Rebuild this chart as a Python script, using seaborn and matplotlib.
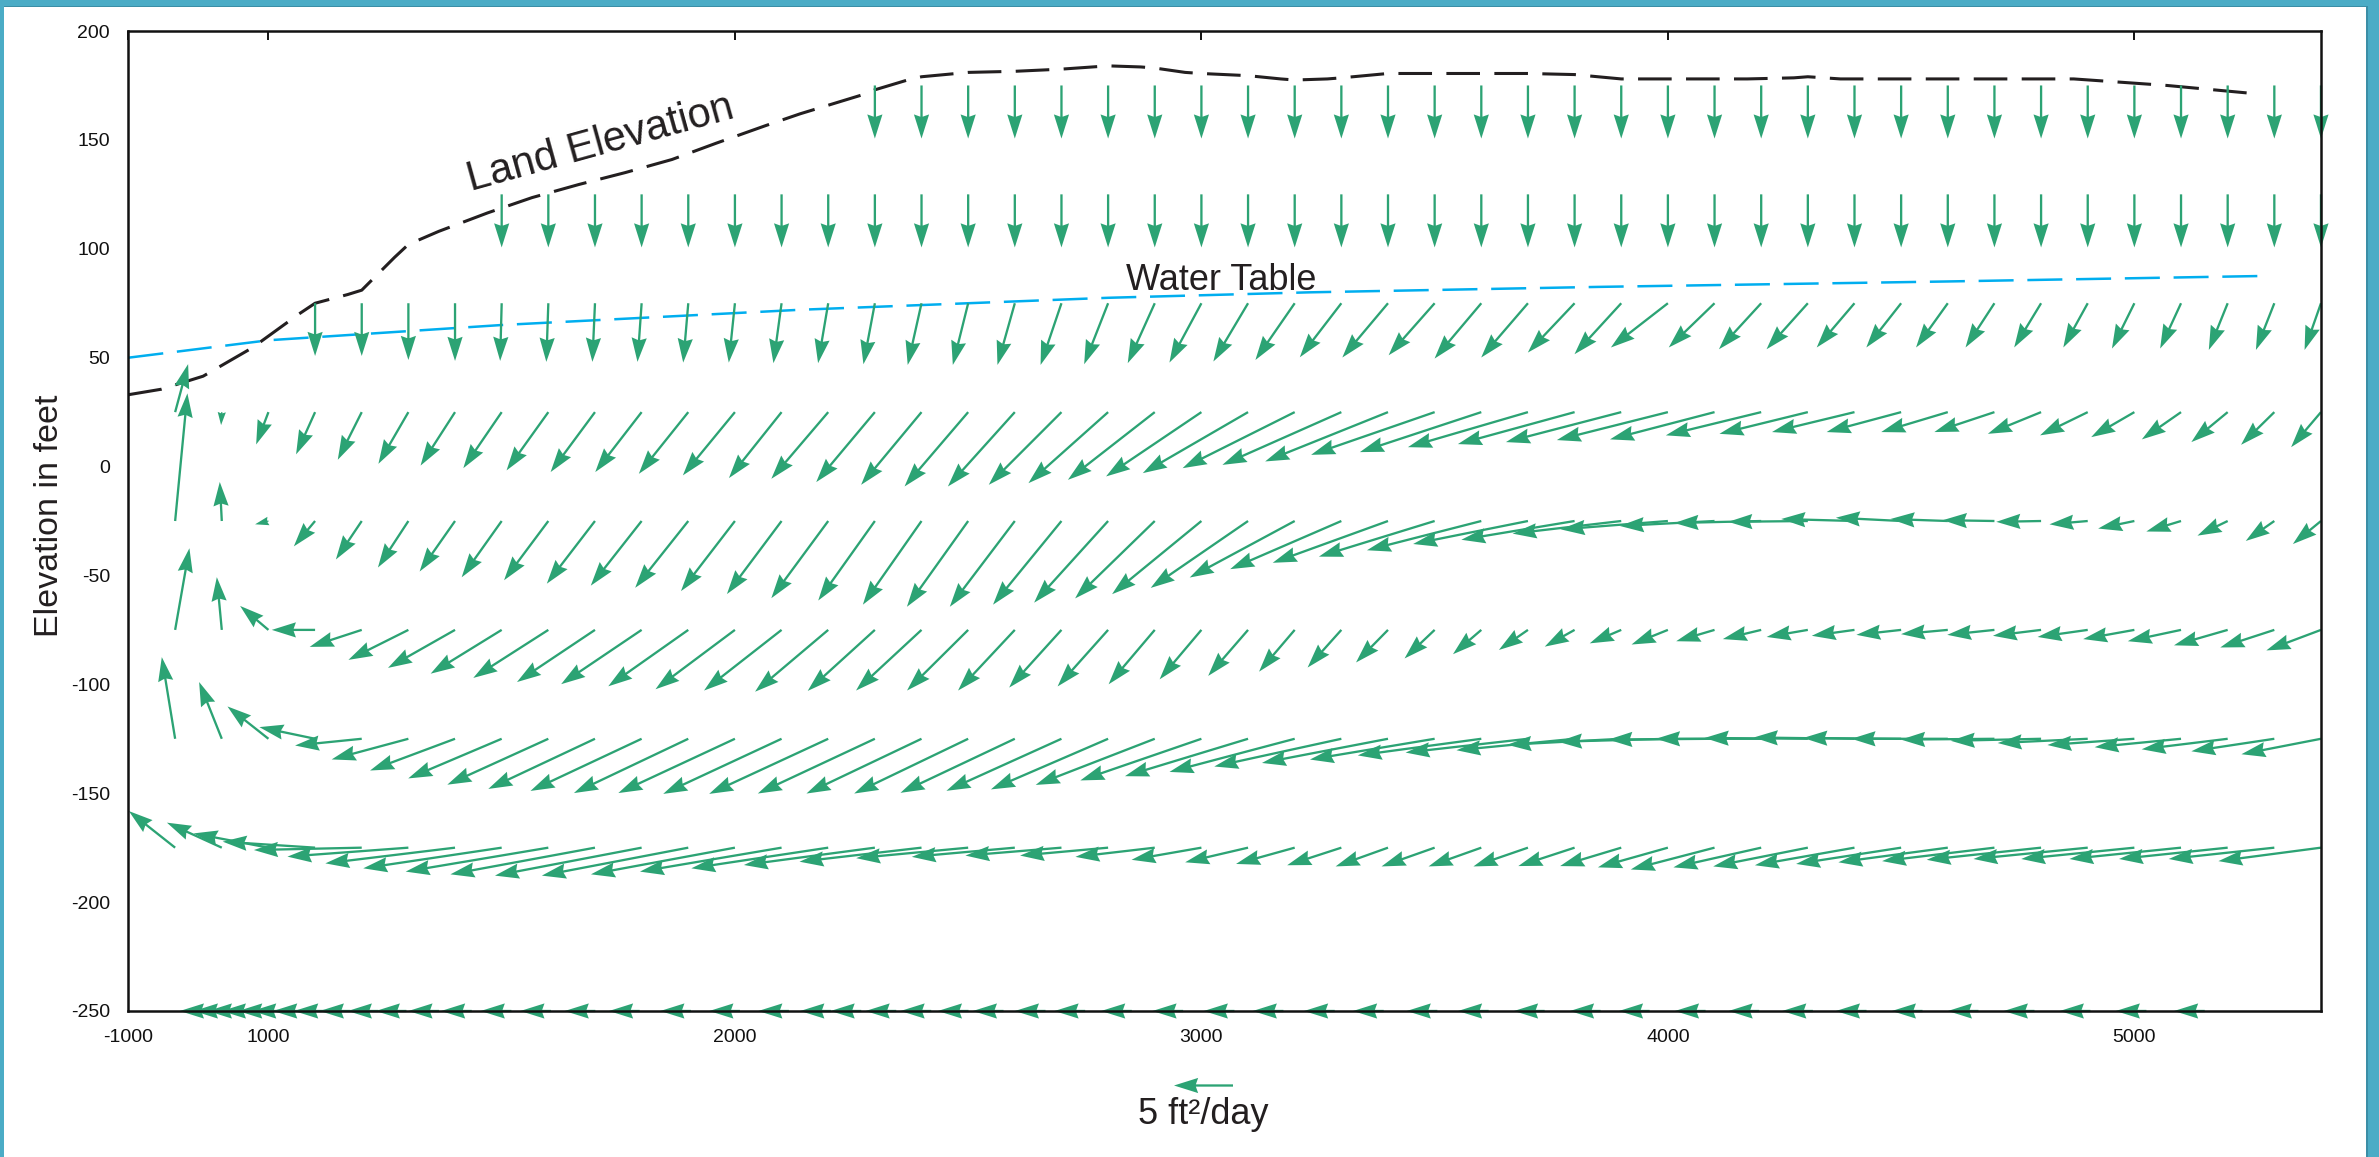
import numpy as np
import pandas as pd
import matplotlib
matplotlib.use("Agg")
import matplotlib.pyplot as plt
import seaborn as sns
from matplotlib.patches import Rectangle

# ---- data -------------------------------------------------------------
# model columns (ft) holding a flux vector, one list per model row (elevation, ft)
cols_175 = list(range(2300, 5500, 100))
cols_125 = list(range(1500, 5500, 100))
cols_75 = list(range(1100, 5500, 100))
cols_mid = list(range(800, 5500, 100))      # rows 25 ... -175

# horizontal / vertical flux (ft2/day)
u_175 = [0.0] * len(cols_175)
v_175 = [-4.5, -4.5, -4.5, -4.5, -4.5, -4.5, -4.5, -4.5, -4.5, -4.5, -4.5, -4.5, -4.5, -4.5, -4.5, -4.5,
         -4.5, -4.5, -4.5, -4.5, -4.5, -4.5, -4.5, -4.5, -4.5, -4.5, -4.5, -4.5, -4.5, -4.5, -4.5, -4.5]
u_125 = [0.0] * len(cols_125)
v_125 = [-4.5, -4.5, -4.5, -4.5, -4.5, -4.5, -4.5, -4.5, -4.5, -4.5, -4.5, -4.5, -4.5, -4.5, -4.5, -4.5,
         -4.5, -4.5, -4.5, -4.5, -4.5, -4.5, -4.5, -4.5, -4.5, -4.5, -4.5, -4.5, -4.5, -4.5, -4.5, -4.5,
         -4.5, -4.5, -4.5, -4.5, -4.5, -4.5, -4.5, -4.5]

u_75 = [0.00, 0.00, 0.00, 0.00, -0.13, -0.17, -0.22, -0.35, -0.43, -0.52, -0.69, -0.86, -0.97, -1.17,
        -1.30, -1.47, -1.77, -2.03, -2.29, -2.71, -2.94, -3.33, -3.52, -3.87, -3.90, -3.96, -3.96, -3.96,
        -3.96, -4.83, -3.88, -3.58, -3.50, -3.20, -2.95, -2.69, -2.45, -2.28, -2.07, -1.90, -1.77, -1.60,
        -1.56, -1.39]
v_75 = [-4.47, -4.47, -4.81, -4.89, -4.89, -4.97, -4.97, -4.97, -5.03, -5.03, -5.08, -5.08, -5.17, -5.23,
        -5.23, -5.23, -5.23, -5.17, -5.08, -5.03, -4.94, -4.81, -4.58, -4.60, -4.41, -4.69, -4.60, -4.18,
        -4.32, -3.75, -3.75, -3.90, -3.90, -3.75, -3.75, -3.75, -3.75, -3.75, -3.75, -3.84, -3.84, -3.96,
        -3.96, -3.96]

u_25 = [1.10, -0.06, -1.04, -1.61, -2.03, -2.54, -2.92, -3.25, -3.54, -3.76, -3.93, -4.19, -4.41, -4.46,
        -4.82, -4.97, -5.12, -5.39, -5.67, -6.16, -6.75, -7.36, -8.08, -8.92, -9.50, -10.08, -10.41, -10.47,
        -10.29, -10.17, -9.89, -9.77, -9.41, -8.86, -8.08, -7.49, -6.99, -6.31, -5.64, -5.09, -4.51, -4.04,
        -3.66, -3.32, -3.08, -2.82, -2.53]
v_25 = [4.07, -1.10, -2.74, -3.58, -4.04, -4.38, -4.53, -4.75, -4.94, -5.08, -5.08, -5.23, -5.36, -5.59,
        -5.65, -5.93, -6.16, -6.30, -6.30, -6.16, -6.02, -5.74, -5.45, -5.17, -4.75, -4.47, -4.18, -3.62,
        -3.39, -2.97, -2.71, -2.54, -2.37, -2.31, -1.97, -1.84, -1.69, -1.69, -1.69, -1.69, -1.84, -1.97,
        -2.12, -2.31, -2.54, -2.77, -2.97]

u_m25 = [1.04, -0.17, -1.13, -1.80, -2.19, -2.58, -3.00, -3.39, -3.75, -4.08, -4.31, -4.50, -4.57, -4.63,
         -4.82, -4.80, -4.97, -5.19, -5.51, -5.80, -6.27, -6.75, -7.57, -8.25, -8.90, -9.42, -9.77, -9.81,
         -9.69, -9.73, -9.60, -9.21, -9.08, -8.03, -7.36, -6.75, -6.21, -5.53, -4.86, -4.38, -3.80, -3.24,
         -3.07, -2.94, -2.56, -2.42, -2.38]
v_m25 = [10.82, 3.31, -0.28, -2.15, -3.26, -3.94, -4.28, -4.77, -5.02, -5.31, -5.48, -5.66, -5.94, -6.19,
         -6.54, -6.74, -7.09, -7.27, -7.27, -7.09, -6.92, -6.56, -6.20, -5.67, -4.79, -4.08, -3.54, -3.02,
         -2.48, -1.95, -1.59, -1.07, -0.71, -0.42, -0.17, -0.07, 0.17, 0.28, 0.17, 0.07, -0.07, -0.28,
         -0.64, -0.89, -1.24, -1.69, -1.95]

u_m75 = [1.21, -0.42, -2.40, -3.67, -4.41, -5.08, -5.68, -6.02, -6.36, -6.61, -6.82, -6.78, -6.73, -6.57,
         -6.20, -5.69, -5.55, -5.18, -4.81, -4.43, -4.28, -3.91, -3.54, -3.38, -3.02, -2.86, -2.71, -2.55,
         -2.40, -2.46, -2.53, -2.67, -3.08, -3.25, -3.25, -3.49, -3.62, -3.79, -3.96, -4.00, -4.08, -4.25,
         -4.34, -4.51, -4.55, -4.58, -4.63]
v_m75 = [6.92, 4.47, 2.03, 0.00, -1.44, -2.54, -3.22, -3.71, -4.07, -4.42, -4.60, -4.78, -5.03, -5.14,
         -5.24, -5.17, -5.14, -5.14, -5.14, -4.89, -4.79, -4.61, -4.19, -3.90, -3.54, -3.19, -2.76, -2.42,
         -2.06, -1.70, -1.42, -1.14, -1.24, -0.96, -0.78, -0.60, -0.50, -0.42, -0.36, -0.42, -0.50, -0.60,
         -0.78, -0.96, -1.31, -1.49, -1.74]

u_m125 = [-1.13, -1.92, -3.47, -4.72, -5.65, -6.50, -7.20, -7.92, -8.56, -9.04, -9.42, -9.69, -9.88, -10.03,
          -10.09, -9.92, -9.75, -9.66, -9.69, -9.75, -9.93, -10.09, -10.26, -10.43, -10.61, -10.77, -10.68,
          -10.57, -10.47, -10.37, -10.01, -9.66, -9.32, -9.01, -8.92, -8.75, -8.54, -8.30, -8.17, -7.92,
          -7.66, -7.63, -7.37, -7.32, -7.29, -7.03, -6.74]
v_m125 = [6.92, 4.81, 2.74, 0.99, -0.57, -1.75, -2.69, -3.36, -3.89, -4.25, -4.42, -4.60, -4.60, -4.67,
          -4.67, -4.64, -4.64, -4.64, -4.58, -4.41, -4.29, -3.91, -3.53, -3.17, -2.81, -2.35, -2.05, -1.76,
          -1.41, -1.17, -0.97, -0.51, -0.25, -0.07, 0.00, 0.07, 0.11, 0.07, 0.00, -0.07, -0.17, -0.36,
          -0.53, -0.71, -0.89, -1.06, -1.31]

u_m175 = [-3.92, -4.65, -6.34, -7.83, -9.14, -10.25, -10.99, -11.73, -12.09, -12.25, -12.43, -12.41, -12.20,
          -12.00, -11.60, -11.10, -10.34, -9.49, -8.73, -8.14, -7.46, -6.72, -5.92, -5.33, -4.97, -4.59,
          -4.44, -4.50, -4.47, -4.62, -4.77, -5.18, -5.93, -7.10, -7.44, -8.02, -8.44, -8.90, -9.27, -9.52,
          -9.69, -9.68, -9.59, -9.46, -9.21, -8.95, -8.69]
v_m175 = [3.10, 2.12, 1.21, 0.51, -0.20, -0.76, -1.33, -1.75, -2.03, -2.26, -2.37, -2.37, -2.26, -2.03,
          -1.75, -1.47, -1.19, -0.89, -0.78, -0.67, -0.67, -0.78, -1.03, -1.24, -1.38, -1.49, -1.59, -1.59,
          -1.59, -1.59, -1.56, -1.56, -1.67, -1.85, -1.67, -1.59, -1.49, -1.38, -1.24, -1.14, -1.03, -0.96,
          -0.96, -0.96, -0.96, -0.96, -1.14]

# bottom boundary (-250 ft): only the arrow heads show along the axis, x of each head tip
bottom_x = [810, 840, 870, 900, 935, 965, 1010, 1055, 1110, 1170, 1230, 1300, 1370, 1455, 1540, 1635,
            1730, 1840, 1945, 2050, 2140, 2205, 2280, 2355, 2435, 2510, 2600, 2685, 2785, 2895, 3005, 3110,
            3220, 3325, 3440, 3550, 3670, 3790, 3895, 4015, 4130, 4245, 4360, 4480, 4600, 4720, 4840, 4960,
            5085]

land_x = [700, 770, 860, 965, 1065, 1100, 1170, 1200, 1270, 1300, 1365, 1470, 1565, 1665, 1765, 1865, 1960,
          2065, 2140, 2270, 2300, 2370, 2400, 2500, 2600, 2700, 2800, 2870, 2900, 2965, 3000, 3100, 3170,
          3200, 3270, 3300, 3400, 3700, 3800, 3900, 4170, 4270, 4300, 4370, 4870, 4970, 5070, 5170, 5270]
land_y = [33, 35.5, 41.5, 54.5, 70, 75, 79, 81, 96, 102, 108, 116.5, 123.5, 129.5, 135, 141, 148.5, 156.5,
          162, 170.5, 173, 177.5, 179, 181, 181.5, 182.5, 184, 183.5, 183, 181, 180.5, 179.5, 178, 177.5,
          178, 178.5, 180.5, 180.5, 180, 178, 178, 178.5, 179, 178, 178, 176.5, 175, 173, 171]

wt_x = [700, 1000, 1500, 2140, 2800, 3230, 3850, 4600, 5270]
wt_y = [50, 58, 65, 72, 77.5, 80, 82.5, 85, 87.5]

rows = [(175, cols_175, u_175, v_175), (125, cols_125, u_125, v_125), (75, cols_75, u_75, v_75),
        (25, cols_mid, u_25, v_25), (-25, cols_mid, u_m25, v_m25), (-75, cols_mid, u_m75, v_m75),
        (-125, cols_mid, u_m125, v_m125), (-175, cols_mid, u_m175, v_m175)]
flux = pd.concat([pd.DataFrame({"x": c, "y": yv, "u": u, "v": v}) for yv, c, u, v in rows],
                 ignore_index=True)

# ---- style ------------------------------------------------------------
sns.set_style("white")
plt.rcParams["font.family"] = ["Liberation Sans", "DejaVu Sans"]
plt.rcParams["axes.unicode_minus"] = False

green = "#2ca374"
ink = "#231f20"

fig = plt.figure(figsize=(23.79, 11.57), dpi=100)
fig.patch.set_facecolor("white")
ax = fig.add_axes([0.05401, 0.12619, 0.9216, 0.8470])

sns.lineplot(x=land_x, y=land_y, ax=ax, color=ink, lw=2.2, linestyle=(0, (11, 4.7)),
             sort=False, zorder=1.5)
sns.lineplot(x=wt_x, y=wt_y, ax=ax, color="#00aeef", lw=1.8, linestyle=(0, (14, 5.5)),
             sort=False, zorder=1.5)

qkw = dict(angles="uv", scale_units="inches", scale=8.475, units="dots", width=2.3,
           headwidth=6.6, headlength=10.5, headaxislength=9.5, color=green, clip_on=False, zorder=2)
q = ax.quiver(flux["x"], flux["y"], flux["u"], flux["v"], **qkw)
ax.quiver(bottom_x, np.full(len(bottom_x), -250.0), np.full(len(bottom_x), -2.6),
          np.zeros(len(bottom_x)), pivot="tip", **qkw)

ax.quiverkey(q, X=0.5057, Y=0.0622, U=5, label="5 ft²/day", labelpos="S", coordinates="figure",
             angle=180, labelsep=0.12, labelcolor=ink, fontproperties={"size": 26})

ax.text(1712, 148.5, "Land Elevation", rotation=15.5, rotation_mode="anchor", ha="center",
        va="center", fontsize=30, color=ink)
ax.text(3042, 81.2, "Water Table", ha="center", va="baseline", fontsize=26, color=ink)

ax.set_xlim(700, 5400)
ax.set_ylim(-250, 200)
ax.set_xticks([700, 1000, 2000, 3000, 4000, 5000])
ax.set_xticklabels(["-1000", "1000", "2000", "3000", "4000", "5000"])
ax.set_yticks(list(range(-250, 201, 50)))
ax.set_xlabel("")
ax.set_ylabel("")
ax.tick_params(axis="x", direction="in", top=True, length=6.5, width=1.4, labelsize=14, pad=13,
               colors="#111111", labelcolor="#111111")
ax.tick_params(axis="y", direction="inout", length=6.5, width=1.4, labelsize=14, pad=10,
               colors="#111111", labelcolor="#111111")
for s in ax.spines.values():
    s.set_visible(True)
    s.set_color("#111111")
    s.set_linewidth(1.8)

fig.text(50 / 2379, 1 - 516 / 1157, "Elevation in feet", rotation=90, ha="center", va="center",
         fontsize=24.5, color=ink)

# teal frame of the slide
teal, teal_dark = "#4bacc6", "#3b8ea6"
fig.add_artist(Rectangle((0, 1 - 6 / 1157), 1, 6 / 1157, transform=fig.transFigure, color=teal, lw=0))
fig.add_artist(Rectangle((0, 1 - 7 / 1157), 1, 1.5 / 1157, transform=fig.transFigure, color=teal_dark, lw=0))
fig.add_artist(Rectangle((0, 0), 4 / 2379, 1, transform=fig.transFigure, color=teal, lw=0))
fig.add_artist(Rectangle((2367 / 2379, 0), 12 / 2379, 1, transform=fig.transFigure, color=teal, lw=0))
fig.add_artist(Rectangle((2366 / 2379, 0), 2 / 2379, 1 - 6 / 1157, transform=fig.transFigure,
                         color=teal_dark, lw=0))

fig.savefig("out.png", dpi=100)
